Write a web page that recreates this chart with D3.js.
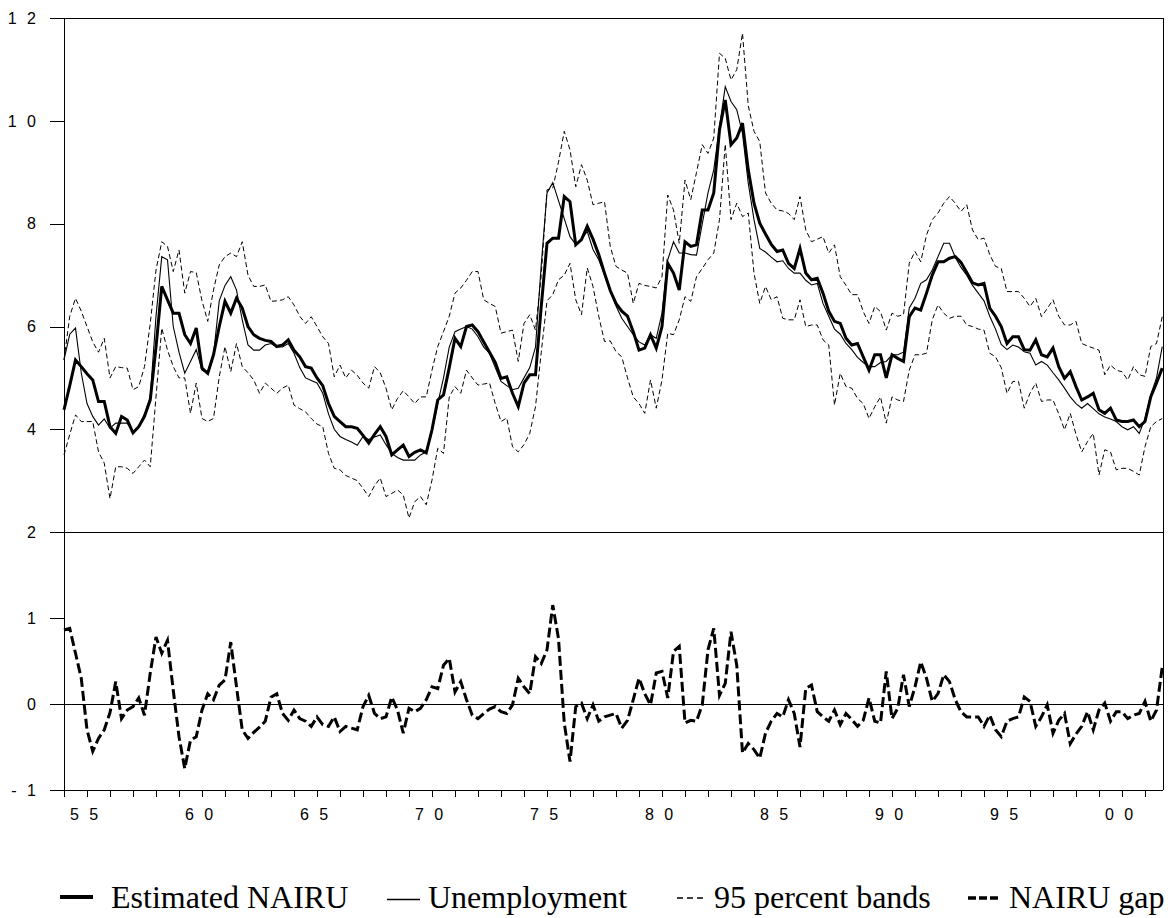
<!DOCTYPE html>
<html>
<head>
<meta charset="utf-8">
<script src="https://cdn.jsdelivr.net/npm/d3@7"></script>
<style>
  html, body { margin: 0; padding: 0; background: #fff; }
  svg { display: block; }
</style>
</head>
<body>
<script>
// ---------------- DATA (quarterly, 1954Q1 - 2001Q4) ----------------
const startYear = 1954;
const nQuarters = 192;

const nairu = [
  4.38, 4.85, 5.35, 5.22,  5.08, 4.96, 4.54, 4.54,  4.05, 3.92, 4.25, 4.18,  3.93, 4.05, 4.25, 4.57,
  5.60, 6.78, 6.52, 6.26,  6.26, 5.84, 5.67, 5.97,  5.19, 5.09, 5.45, 6.00,  6.49, 6.26, 6.55, 6.36,
  6.00, 5.84, 5.77, 5.73,  5.71, 5.61, 5.64, 5.74,  5.54, 5.41, 5.22, 5.19,  5.00, 4.85, 4.50, 4.25,
  4.15, 4.05, 4.05, 4.02,  3.88, 3.73, 3.90, 4.05,  3.86, 3.50, 3.60, 3.69,  3.47, 3.55, 3.60, 3.54,
  3.99, 4.57, 4.67, 5.20,  5.77, 5.61, 6.00, 6.03,  5.90, 5.70, 5.50, 5.30,  4.99, 5.02, 4.70, 4.44,
  4.90, 5.06, 5.06, 6.39,  7.62, 7.72, 7.72, 8.53,  8.43, 7.59, 7.69, 7.95,  7.70, 7.40, 7.04, 6.70,
  6.45, 6.30, 6.20, 5.90,  5.54, 5.58, 5.84, 5.58,  6.00, 7.23, 7.04, 6.71,  7.65, 7.56, 7.59, 8.27,
  8.27, 8.60, 9.83, 10.41, 9.54, 9.67, 9.96, 9.05,  8.40, 8.01, 7.80, 7.60,  7.46, 7.49, 7.23, 7.13,
  7.52, 7.04, 6.91, 6.94,  6.65, 6.30, 6.10, 6.06,  5.77, 5.64, 5.67, 5.41,  5.15, 5.45, 5.45, 5.00,
  5.45, 5.38, 5.32, 6.19,  6.36, 6.32, 6.65, 7.00,  7.26, 7.26, 7.33, 7.36,  7.25, 7.05, 6.85, 6.81,
  6.84, 6.36, 6.20, 6.00,  5.67, 5.80, 5.80, 5.55,  5.54, 5.74, 5.45, 5.41,  5.58, 5.22, 4.99, 5.12,
  4.83, 4.57, 4.63, 4.70,  4.38, 4.31, 4.41, 4.18,  4.15, 4.15, 4.18, 4.05,  4.15, 4.63, 4.90, 5.19
];

const unemployment = [
  5.35, 5.85, 5.97, 5.10,  4.50, 4.25, 4.08, 4.20,  4.02, 4.12, 4.12, 4.12,  3.95, 4.05, 4.30, 4.63,
  6.20, 7.36, 7.30, 6.00,  5.50, 5.09, 5.32, 5.55,  5.15, 5.09, 5.45, 6.50,  6.80, 6.97, 6.71, 6.13,
  5.64, 5.54, 5.54, 5.64,  5.67, 5.60, 5.60, 5.67,  5.48, 5.20, 5.00, 4.95,  4.90, 4.70, 4.30, 4.00,
  3.86, 3.80, 3.75, 3.69,  3.86, 3.80, 3.85, 3.89,  3.70, 3.53, 3.45, 3.40,  3.40, 3.40, 3.50, 3.56,
  3.95, 4.50, 5.00, 5.60,  5.90, 5.95, 6.00, 5.95,  5.80, 5.60, 5.48, 5.20,  4.93, 4.85, 4.77, 4.80,
  5.00, 5.20, 5.60, 7.20,  8.60, 8.80, 8.45, 8.10,  7.75, 7.60, 7.70, 7.85,  7.50, 7.30, 7.00, 6.70,
  6.40, 6.16, 6.00, 5.84,  5.70, 5.64, 5.84, 5.77,  6.26, 7.30, 7.65, 7.43,  7.43, 7.40, 7.39, 8.00,
  8.60, 9.05, 9.89, 10.67, 10.38, 10.22, 9.76, 8.79, 8.08, 7.52, 7.45, 7.35,  7.26, 7.28, 7.13, 7.04,
  7.04, 6.90, 6.81, 6.84,  6.45, 6.20, 5.95, 5.85,  5.67, 5.55, 5.40, 5.30,  5.22, 5.22, 5.30, 5.32,
  5.45, 5.45, 5.50, 6.36,  6.55, 6.84, 6.91, 7.10,  7.36, 7.62, 7.62, 7.35,  7.15, 7.00, 6.80, 6.65,
  6.50, 6.20, 5.95, 5.65,  5.55, 5.64, 5.60, 5.51,  5.48, 5.25, 5.32, 5.25,  5.10, 4.96, 4.80, 4.63,
  4.50, 4.41, 4.50, 4.40,  4.30, 4.24, 4.20, 4.15,  4.05, 3.99, 4.05, 3.92,  4.21, 4.67, 5.00, 5.61
];

const upperBand = [
  5.35, 6.20, 6.55, 6.30,  6.00, 5.70, 5.50, 5.77,  5.00, 5.22, 5.20, 5.19,  4.77, 4.83, 5.22, 6.06,
  7.10, 7.65, 7.56, 7.07,  7.49, 6.65, 7.07, 7.05,  6.50, 6.10, 6.71, 7.20,  7.36, 7.43, 7.36, 7.65,
  7.00, 6.78, 6.78, 6.81,  6.49, 6.50, 6.52, 6.58,  6.42, 6.20, 6.06, 6.19,  6.00, 5.80, 5.67, 5.02,
  5.25, 5.00, 5.15, 5.05,  4.90, 4.80, 5.22, 5.10,  4.80, 4.38, 4.60, 4.75,  4.63, 4.50, 4.63, 4.63,
  5.15, 5.61, 5.90, 6.20,  6.65, 6.75, 6.90, 7.07,  7.07, 6.52, 6.45, 6.39,  5.87, 5.90, 5.93, 5.32,
  6.06, 6.23, 5.93, 7.00,  8.66, 8.69, 9.20, 9.80,  9.44, 8.72, 9.15, 8.85,  8.37, 8.40, 8.43, 7.56,
  7.17, 7.10, 7.04, 6.45,  6.84, 6.80, 6.78, 6.75,  6.97, 8.56, 8.27, 7.62,  8.85, 8.47, 9.00, 9.54,
  9.37, 9.67, 11.32, 11.22, 10.80, 11.00, 11.71, 10.30, 9.80, 9.60, 8.60, 8.40, 8.27, 8.25, 8.20, 8.08,
  8.53, 7.88, 7.65, 7.70,  7.75, 7.43, 7.59, 6.97,  6.80, 6.62, 6.62, 6.29,  6.06, 6.39, 6.29, 5.93,
  6.26, 6.20, 6.23, 7.23,  7.46, 7.26, 7.78, 8.08,  8.21, 8.40, 8.53, 8.40,  8.24, 8.37, 7.88, 7.69,
  7.72, 7.40, 7.17, 7.13,  6.68, 6.68, 6.68, 6.55,  6.39, 6.55, 6.19, 6.35,  6.52, 6.20, 6.03, 6.03,
  6.10, 5.67, 5.62, 5.58,  5.54, 5.06, 5.25, 5.15,  5.12, 4.96, 5.22, 5.06,  5.03, 5.61, 5.67, 6.19
];

const lowerBand = [
  3.50, 3.90, 4.28, 4.15,  4.15, 4.15, 3.56, 3.34,  2.65, 3.27, 3.27, 3.24,  3.14, 3.27, 3.40, 3.27,
  4.63, 5.97, 5.54, 5.22,  5.00, 5.00, 4.31, 4.90,  4.21, 4.15, 4.21, 5.02,  5.61, 5.12, 5.67, 5.22,
  5.10, 4.96, 4.70, 4.90,  4.80, 4.70, 4.80, 4.86,  4.47, 4.40, 4.34, 4.21,  4.10, 4.05, 3.53, 3.24,
  3.21, 3.10, 3.05, 3.00,  2.85, 2.69, 2.90, 3.05,  2.69, 2.75, 2.82, 2.72,  2.27, 2.59, 2.69, 2.53,
  3.01, 3.63, 3.53, 4.63,  4.83, 4.70, 5.15, 5.00,  4.86, 4.88, 4.90, 4.50,  4.15, 4.22, 3.66, 3.56,
  3.70, 3.92, 4.44, 5.50,  6.50, 6.62, 6.91, 7.00,  7.23, 6.52, 6.23, 7.14,  6.78, 6.20, 5.71, 5.72,
  5.51, 5.41, 5.00, 4.63,  4.50, 4.31, 4.96, 4.41,  4.96, 5.87, 5.84, 6.13,  6.58, 6.49, 6.97, 7.13,
  7.30, 7.43, 8.08, 9.55,  8.08, 8.40, 8.14, 8.21,  7.04, 6.45, 6.78, 6.52,  6.58, 6.16, 6.13, 6.13,
  6.52, 6.00, 6.03, 6.03,  5.74, 5.64, 4.47, 5.09,  4.83, 4.80, 4.60, 4.50,  4.21, 4.44, 4.63, 4.12,
  4.63, 4.57, 4.54, 5.15,  5.45, 5.45, 5.48, 6.13,  6.42, 6.26, 6.16, 6.20,  6.20, 6.03, 6.00, 5.95,
  5.93, 5.48, 5.41, 5.20,  4.70, 4.93, 4.93, 4.41,  4.70, 4.90, 4.54, 4.57,  4.57, 4.30, 3.99, 4.31,
  3.90, 3.56, 3.76, 3.92,  3.11, 3.60, 3.56, 3.21,  3.24, 3.24, 3.18, 3.11,  3.66, 4.05, 4.15, 4.21
];

const nairuGap = [
  0.86, 0.88, 0.59, 0.30,  -0.30, -0.55, -0.40, -0.30,  -0.10, 0.26, -0.17, -0.07,  -0.03, 0.07, -0.13, 0.36,
  0.78, 0.59, 0.74, 0.16,  -0.38, -0.75, -0.42, -0.38,  -0.07, 0.12, 0.05, 0.22,  0.28, 0.72, 0.20, -0.30,
  -0.40, -0.33, -0.27, -0.20,  0.08, 0.12, -0.11, -0.19,  -0.07, -0.17, -0.20, -0.26,  -0.15, -0.24, -0.26, -0.15,
  -0.32, -0.26, -0.28, -0.30,  -0.03, 0.10, -0.11, -0.17,  -0.15, 0.08, -0.07, -0.34,  -0.05, -0.09, -0.05, 0.05,
  0.20, 0.18, 0.45, 0.53,  0.14, 0.26, 0.05, -0.13,  -0.17, -0.11, -0.06, -0.03,  -0.09, -0.11, -0.01, 0.30,
  0.20, 0.12, 0.55, 0.47,  0.63, 1.15, 0.76, -0.22,  -0.67, -0.03, 0.01, -0.17,  -0.01, -0.20, -0.15, -0.13,
  -0.11, -0.28, -0.19, 0.05,  0.30, 0.12, -0.01, 0.36,  0.38, 0.07, 0.61, 0.67,  -0.22, -0.19, -0.20, -0.01,
  0.63, 0.88, 0.10, 0.24,  0.84, 0.45, -0.57, -0.46,  -0.53, -0.63, -0.34, -0.20,  -0.11, -0.15, 0.05, -0.11,
  -0.50, 0.18, 0.22, -0.09,  -0.15, -0.20, -0.07, -0.24,  -0.11, -0.18, -0.26, -0.19,  0.07, -0.20, -0.22, 0.38,
  -0.17, -0.05, 0.34, -0.03,  0.20, 0.49, 0.30, 0.03,  0.12, 0.34, 0.26, 0.05,  -0.09, -0.15, -0.15, -0.15,
  -0.26, -0.13, -0.30, -0.38,  -0.20, -0.17, -0.15, 0.08,  0.03, -0.26, -0.15, -0.01,  -0.34, -0.19, -0.11, -0.46,
  -0.35, -0.26, -0.09, -0.30,  -0.07, 0.01, -0.20, -0.09,  -0.09, -0.17, -0.13, -0.11,  0.03, -0.20, -0.07, 0.43
];

const topTicks = [2, 4, 6, 8, 10, 12];
const bottomTicks = [-1, 0, 1];
const yearTicks = d3.range(1955, 2002);
const labelYears = [1955, 1960, 1965, 1970, 1975, 1980, 1985, 1990, 1995, 2000];

const legendItems = [
  { label: "Estimated NAIRU",   kind: "nairu" },
  { label: "Unemployment",      kind: "unemp" },
  { label: "95 percent bands",  kind: "band" },
  { label: "NAIRU gap",         kind: "gap" }
];

// ---------------- CHART ----------------
const W = 1173, H = 918;
const L = 64, R = 1163, TOP = 18.3, MID = 532, BOT = 790;

const svg = d3.select("body").append("svg")
  .attr("width", W).attr("height", H)
  .style("background", "#fff");

const quarters = d3.range(nQuarters).map(i => startYear + i / 4);

const x = d3.scaleLinear().domain([1954, 1954 + (R - L) / 23]).range([L, R]);
const yTop = d3.scaleLinear().domain([2, 12]).range([MID, TOP]);
const yBot = d3.scaleLinear().domain([-1, 2]).range([BOT, MID]);

const spaced = d => String(d).split("").join(" ");
const axisFont = "'Liberation Sans', Arial, Helvetica, sans-serif";

// frame lines
const frame = svg.append("g").attr("stroke", "#000").attr("stroke-width", 1)
  .attr("shape-rendering", "crispEdges").attr("fill", "none");
frame.append("line").attr("x1", 50).attr("x2", R).attr("y1", TOP).attr("y2", TOP);
frame.append("line").attr("x1", R).attr("x2", R).attr("y1", TOP).attr("y2", BOT);
frame.append("line").attr("x1", 50).attr("x2", R).attr("y1", BOT).attr("y2", BOT);
frame.append("line").attr("x1", 50).attr("x2", R).attr("y1", MID).attr("y2", MID);
frame.append("line").attr("x1", L).attr("x2", R).attr("y1", yBot(0)).attr("y2", yBot(0));
frame.append("line").attr("x1", L).attr("x2", L).attr("y1", TOP).attr("y2", BOT + 7);

function styleAxis(g) {
  g.select(".domain").remove();
  g.selectAll(".tick line").attr("stroke", "#000").attr("shape-rendering", "crispEdges");
  g.selectAll(".tick text")
    .attr("fill", "#000")
    .style("font-family", axisFont)
    .style("font-size", "16px")
    .style("letter-spacing", "3px");
}

// left axes
svg.append("g").attr("transform", `translate(${L},0)`)
  .call(d3.axisLeft(yTop).tickValues(topTicks).tickSize(14).tickSizeOuter(0)
        .tickPadding(11).tickFormat(spaced))
  .call(styleAxis)
  .call(g => g.selectAll(".tick text").attr("dy", "0.32em"));

svg.append("g").attr("transform", `translate(${L},0)`)
  .call(d3.axisLeft(yBot).tickValues(bottomTicks).tickSize(14).tickSizeOuter(0)
        .tickPadding(11).tickFormat(spaced))
  .call(styleAxis)
  .call(g => g.selectAll(".tick text").attr("dy", "0.32em"));

// bottom axis
svg.append("g").attr("transform", `translate(0,${BOT})`)
  .call(d3.axisBottom(x).tickValues(yearTicks).tickSize(7).tickSizeOuter(0)
        .tickPadding(12)
        .tickFormat(d => labelYears.includes(d) ? spaced(String(d % 100).padStart(2, "0")) : ""))
  .call(styleAxis)
  .call(g => g.selectAll(".tick text").attr("x", -2));

// series
const lineTop = d3.line().x((d, i) => x(quarters[i])).y(d => yTop(d));
const lineBot = d3.line().x((d, i) => x(quarters[i])).y(d => yBot(d));

const series = svg.append("g").attr("fill", "none").attr("stroke", "#000")
  .attr("stroke-linejoin", "miter");

series.append("path").datum(upperBand).attr("d", lineTop)
  .attr("stroke-width", 1).attr("stroke-dasharray", "5,3");
series.append("path").datum(lowerBand).attr("d", lineTop)
  .attr("stroke-width", 1).attr("stroke-dasharray", "5,3");
series.append("path").datum(unemployment).attr("d", lineTop)
  .attr("stroke-width", 1.1);
series.append("path").datum(nairu).attr("d", lineTop)
  .attr("stroke-width", 3);
series.append("path").datum(nairuGap).attr("d", lineBot)
  .attr("stroke-width", 3).attr("stroke-dasharray", "10,4");

// legend
const legendPos = [
  { x1: 60,  x2: 93,  y: 897,   tx: 111 },
  { x1: 387, x2: 420, y: 899.5, tx: 428 },
  { x1: 677, x2: 703, y: 898,   tx: 714 },
  { x1: 968, x2: 1000, y: 898,  tx: 1009 }
];
const legStyle = {
  nairu: { w: 4,   dash: null },
  unemp: { w: 1.3, dash: null },
  band:  { w: 1.3, dash: "6,4" },
  gap:   { w: 3.5, dash: "8,3" }
};
const leg = svg.append("g");
legendItems.forEach((it, k) => {
  const p = legendPos[k], s = legStyle[it.kind];
  const ln = leg.append("line").attr("x1", p.x1).attr("x2", p.x2)
    .attr("y1", p.y).attr("y2", p.y).attr("stroke", "#000").attr("stroke-width", s.w);
  if (s.dash) ln.attr("stroke-dasharray", s.dash);
  leg.append("text").attr("x", p.tx).attr("y", 908)
    .style("font-family", "'Liberation Serif', 'Times New Roman', Times, serif")
    .style("font-size", "32px").attr("fill", "#000")
    .text(it.label);
});
</script>
</body>
</html>
